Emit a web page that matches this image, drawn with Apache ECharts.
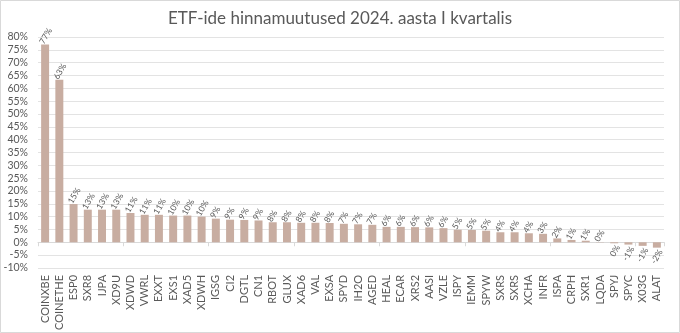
<!DOCTYPE html>
<html>
<head>
<meta charset="utf-8">
<script src="https://cdn.jsdelivr.net/npm/echarts@6/dist/echarts.min.js"></script>
<style>
html,body{margin:0;padding:0;background:#fff;}
#c{width:680px;height:333px;}
</style>
</head>
<body>
<div id="c"></div>
<script>
const categories = ["COINXBE","COINETHE","ESP0","SXR8","IJPA","XD9U","XDWD","VWRL","EXXT","EXS1","XAD5","XDWH","IGSG","CI2","DGTL","CN1","RBOT","GLUX","XAD6","VAL","EXSA","SPYD","IH2O","AGED","HEAL","ECAR","XRS2","AASI","VZLE","ISPY","IEMM","SPYW","SXRS","SXRS","XCHA","INFR","ISPA","CRPH","SXR1","LQDA","SPYJ","SPYC","X03G","ALAT"];
const values = [77.1,63.3,14.9,12.7,12.7,12.7,11.4,10.7,10.7,10.4,10.4,10.0,9.2,8.8,8.7,8.5,7.8,7.8,7.6,7.6,7.5,7.2,7.0,6.8,6.0,6.0,5.9,5.8,5.5,4.9,4.8,4.5,3.9,3.9,3.5,3.3,1.5,0.9,0.6,0.1,-0.4,-0.9,-1.4,-2.1];
const yTicks = {min:-10, max:80, interval:5};
const titleText = "ETF-ide hinnamuutused 2024. aasta I kvartalis";

const font = "Lato, 'Open Sans', sans-serif";
const chart = echarts.init(document.getElementById('c'), null, {renderer:'canvas'});
const data = values.map(v => ({
  value: v,
  label: v < 0 ? {position:'bottom', align:'right', offset:[4,2]} : {position:'top', align:'left', offset:[-5,-1]}
}));
chart.setOption({
  animation:false,
  backgroundColor:'#fff',
  graphic:[{type:'rect', shape:{x:0.5,y:0.5,width:679,height:332}, style:{fill:'none', stroke:'#d9d9d9', lineWidth:1}, silent:true}],
  title:{text:titleText, left:'center', top:5, textStyle:{fontFamily:font, fontSize:17, fontWeight:'normal', color:'#595959'}},
  grid:{left:38, right:16, top:37, bottom:57, containLabel:false},
  xAxis:[{
    type:'category', data:categories, position:'bottom',
    axisLine:{show:false, onZero:false}, axisTick:{show:false},
    axisLabel:{rotate:90, fontFamily:font, fontSize:11, color:'#595959', margin:7, interval:0}
  },{
    type:'category', data:categories, position:'bottom',
    axisLine:{show:true, onZero:true, lineStyle:{color:'#d9d9d9', width:1}},
    axisTick:{show:true, length:4, lineStyle:{color:'#d9d9d9'}},
    axisLabel:{show:false}
  }],
  yAxis:{
    type:'value', min:yTicks.min, max:yTicks.max, interval:yTicks.interval,
    axisLine:{show:false}, axisTick:{show:false},
    axisLabel:{formatter:v => v + '%', fontFamily:font, fontSize:10.5, color:'#595959', margin:10},
    splitLine:{lineStyle:{color:'#e3e3e3', width:1}}
  },
  series:[{
    type:'bar', xAxisIndex:0, data:data, barCategoryGap:'44%',
    itemStyle:{color:'#c8ada1'},
    label:{show:true, rotate:60, fontFamily:font, fontSize:8.5, color:'#595959', verticalAlign:'middle',
      formatter: p => String(Math.round(p.value)).replace('-0','0') + '%'}
  }]
});
</script>
</body>
</html>
